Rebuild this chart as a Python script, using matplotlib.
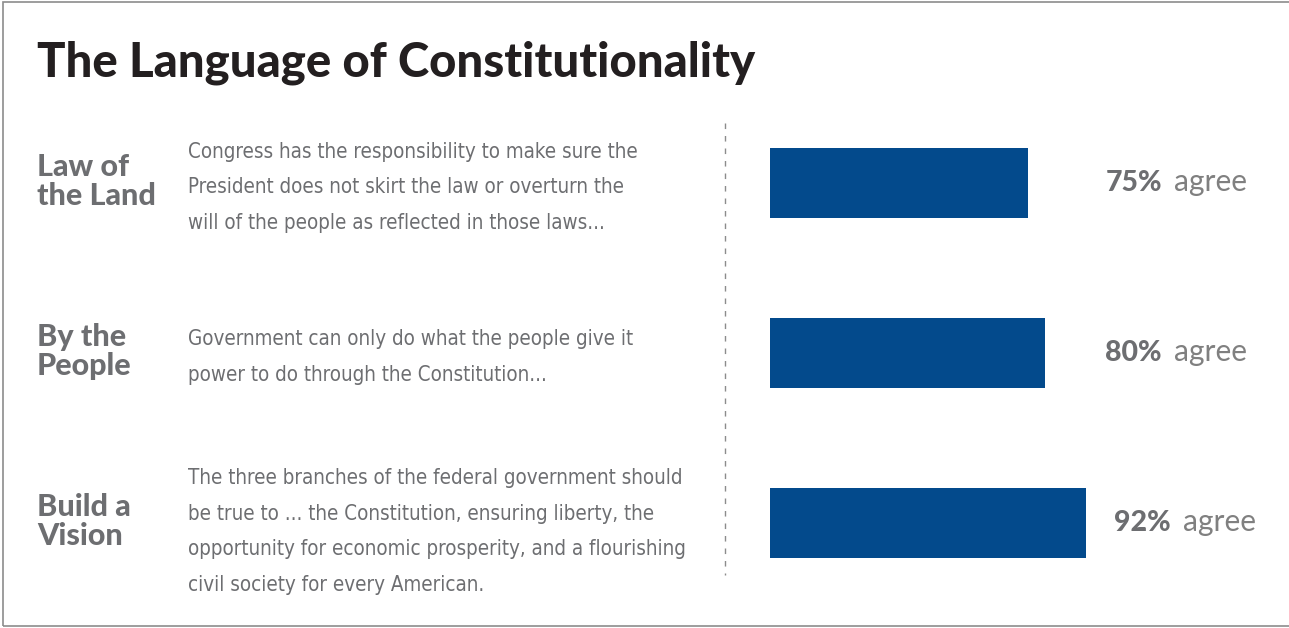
import matplotlib.pyplot as plt
from matplotlib import transforms
from matplotlib.patches import Rectangle

# 数据
labels = ["Law of\nthe Land", "By the\nPeople", "Build a\nVision"]
quotes = [
    "Congress has the responsibility to make sure the\n"
    "President does not skirt the law or overturn the\n"
    "will of the people as reflected in those laws...",
    "Government can only do what the people give it\n"
    "power to do through the Constitution...",
    "The three branches of the federal government should\n"
    "be true to ... the Constitution, ensuring liberty, the\n"
    "opportunity for economic prosperity, and a flourishing\n"
    "civil society for every American.",
]
agree = [75, 80, 92]

W, H = 1289, 628
BLUE = "#034a8c"
GRAY = "#6d6e71"

fig = plt.figure(figsize=(W / 100, H / 100), dpi=100)
fig.patch.set_facecolor("white")

# 外框
fig.patches.append(Rectangle((3 / W, 2 / H), 1.2, 1 - 3.5 / H, transform=fig.transFigure,
                             fill=False, edgecolor="#8c8c8c", linewidth=1.2))

# 柱状图区域
ax = fig.add_axes([770 / W, 1 - 608 / H, 344 / W, 510 / H])
ax.barh(range(len(agree)), agree, height=70 / 170, color=BLUE)
ax.set_xlim(0, 100)
ax.set_ylim(len(agree) - 0.5, -0.5)
ax.axis("off")

for i, v in enumerate(agree):
    t = ax.text(97.5 + (2.5 if v > 90 else 0), i, f"{v}%", fontsize=20.5, fontweight="black",
                color=GRAY, va="center", ha="left", family="Lato")
    ax.annotate("agree", xy=(1, 0), xycoords=t, xytext=(9, 0), textcoords="offset points",
                va="bottom", ha="left", fontsize=21.5, color="#808080", family="Lato",
                fontweight="normal")

# 左侧文字
tr = transforms.blended_transform_factory(fig.transFigure, ax.transData)
for i, (lab, q) in enumerate(zip(labels, quotes)):
    fig.text(37 / W, i - 0.01, lab, transform=tr, fontsize=22, fontweight="black",
             color=GRAY, va="center", ha="left", linespacing=1.03, family="Lato")
    fig.text(188 / W, i + (0.05 if i == 2 else 0.025), q, transform=tr, fontsize=14.8,
             color=GRAY, va="center", ha="left", linespacing=1.97,
             family="DejaVu Sans", fontstretch="condensed")

# 虚线
fig.add_artist(plt.Line2D([725 / W, 725 / W], [1 - 123 / H, 1 - 575 / H], transform=fig.transFigure,
                          color="#8c8c8c", linestyle=(0, (4, 5)), linewidth=1))

# 标题
fig.text(37 / W, 1 - 63 / H, "The Language of Constitutionality", fontsize=34,
         fontweight="black", color="#231f20", va="center", ha="left", family="Lato")

fig.savefig("out.png", dpi=100)
